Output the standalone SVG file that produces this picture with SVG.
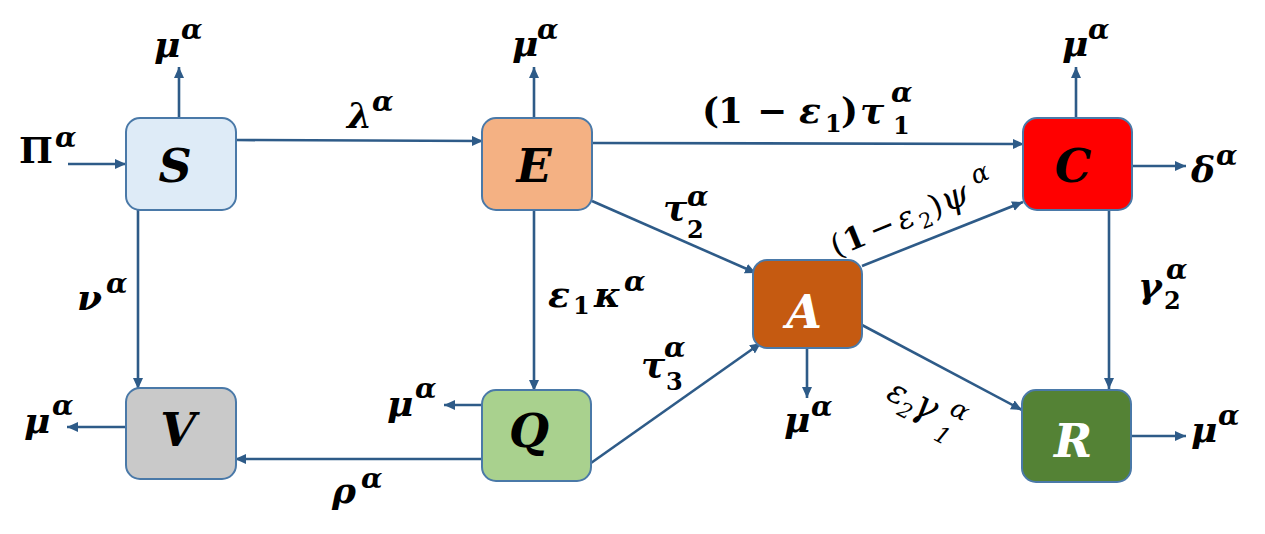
<svg xmlns="http://www.w3.org/2000/svg" width="1265" height="534" viewBox="0 0 1265 534">
<style>
.box{stroke:#4A79A8;stroke-width:2}
.lbl{font-family:"DejaVu Serif","Liberation Serif",serif;font-weight:bold;font-style:italic;font-size:36px;fill:#000}
.node{font-family:"DejaVu Serif","Liberation Serif",serif;font-weight:bold;font-style:italic;font-size:46px;text-anchor:middle}
.up{font-style:normal}
.sup{font-size:28px}
.sub{font-size:24px;font-style:normal}
.thin{font-weight:normal}
.conn line{stroke:#2E5B88;stroke-width:2.6;fill:none;marker-end:url(#ah)}
</style>
<defs>
<marker id="ah" markerUnits="userSpaceOnUse" markerWidth="14" markerHeight="12" refX="11" refY="5" orient="auto">
<path d="M0,0 L11,5 L0,10 Z" fill="#2E5B88"/>
</marker>
</defs>
<rect width="1265" height="534" fill="#fff"/>
<g id="connectors" class="conn">
<line x1="68" y1="164" x2="126" y2="164"/>
<line x1="179" y1="118" x2="179" y2="67"/>
<line x1="236" y1="140" x2="483" y2="141"/>
<line x1="138" y1="210" x2="138" y2="389"/>
<line x1="126" y1="427" x2="67" y2="427"/>
<line x1="534" y1="118" x2="534" y2="67"/>
<line x1="592" y1="143" x2="1024" y2="144"/>
<line x1="592" y1="201" x2="756" y2="273"/>
<line x1="534" y1="210" x2="534" y2="391"/>
<line x1="482" y1="405" x2="444" y2="405"/>
<line x1="482" y1="459" x2="235" y2="459"/>
<line x1="591" y1="463" x2="761" y2="343"/>
<line x1="862" y1="266" x2="1023" y2="202"/>
<line x1="862" y1="325" x2="1022" y2="410"/>
<line x1="807" y1="348" x2="807" y2="398"/>
<line x1="1076" y1="118" x2="1076" y2="67"/>
<line x1="1132" y1="166" x2="1186" y2="166"/>
<line x1="1109" y1="210" x2="1109" y2="389"/>
<line x1="1131" y1="436" x2="1186" y2="436"/>
</g>
<g id="node-S"><rect class="box" x="126" y="118" width="110" height="92" rx="14" fill="#DEEBF7"/><text class="node" x="175" y="182">S</text></g>
<g id="node-E"><rect class="box" x="482" y="118" width="110" height="92" rx="14" fill="#F4B183"/><text class="node" x="534" y="182">E</text></g>
<g id="node-C"><rect class="box" x="1023" y="118" width="109" height="92" rx="14" fill="#FF0000"/><text class="node" x="1073" y="182">C</text></g>
<g id="node-A"><rect class="box" x="753" y="260" width="109" height="88" rx="14" fill="#C55A11"/><text class="node" x="804" y="328" fill="#fff">A</text></g>
<g id="node-V"><rect class="box" x="126" y="388" width="110" height="91" rx="14" fill="#C9C9C9"/><text class="node" x="178" y="446">V</text></g>
<g id="node-Q"><rect class="box" x="482" y="390" width="109" height="91" rx="14" fill="#A9D18E"/><text class="node" x="529" y="447">Q</text></g>
<g id="node-R"><rect class="box" x="1022" y="390" width="109" height="92" rx="14" fill="#548235"/><text class="node" x="1073" y="457" fill="#fff">R</text></g>
<g id="labels">
<text class="lbl"><tspan class="up" x="19" y="163">Π</tspan><tspan class="sup" x="55" y="147">α</tspan></text>
<text class="lbl"><tspan x="154" y="57">μ</tspan><tspan class="sup" x="181" y="39">α</tspan></text>
<text class="lbl"><tspan x="512" y="56">μ</tspan><tspan class="sup" x="537" y="39">α</tspan></text>
<text class="lbl"><tspan x="1062" y="56">μ</tspan><tspan class="sup" x="1088" y="39">α</tspan></text>
<text class="lbl"><tspan x="347" y="128">λ</tspan><tspan class="sup" x="372" y="111">α</tspan></text>
<text class="lbl"><tspan class="up" x="702" y="123">(</tspan><tspan class="up" x="718" y="123">1</tspan><tspan class="up" x="757" y="123">−</tspan><tspan x="799" y="123">ε</tspan><tspan class="sub" x="825" y="132">1</tspan><tspan class="up" x="841" y="123">)</tspan><tspan x="860" y="123">τ</tspan><tspan class="sub" x="893" y="134">1</tspan><tspan class="sup" x="891" y="102">α</tspan></text>
<text class="lbl"><tspan x="663" y="220">τ</tspan><tspan class="sub" x="687" y="238">2</tspan><tspan class="sup" x="687" y="206">α</tspan></text>
<text class="lbl"><tspan x="548" y="307">ε</tspan><tspan class="sub" x="573" y="314">1</tspan><tspan x="594" y="307">κ</tspan><tspan class="sup" x="624" y="291">α</tspan></text>
<text class="lbl"><tspan x="77" y="310">ν</tspan><tspan class="sup" x="106" y="293">α</tspan></text>
<text class="lbl"><tspan x="24" y="433">μ</tspan><tspan class="sup" x="52" y="415">α</tspan></text>
<text class="lbl"><tspan x="332" y="503">ρ</tspan><tspan class="sup" x="361" y="488">α</tspan></text>
<text class="lbl"><tspan x="387" y="416">μ</tspan><tspan class="sup" x="415" y="398">α</tspan></text>
<text class="lbl"><tspan x="641" y="377">τ</tspan><tspan class="sub" x="666" y="390">3</tspan><tspan class="sup" x="664" y="357">α</tspan></text>
<text class="lbl"><tspan x="784" y="432">μ</tspan><tspan class="sup" x="811" y="416">α</tspan></text>
<text class="lbl"><tspan x="1138" y="298">γ</tspan><tspan class="sub" x="1164" y="309">2</tspan><tspan class="sup" x="1166" y="279">α</tspan></text>
<text class="lbl"><tspan x="1191" y="182">δ</tspan><tspan class="sup" x="1216" y="165">α</tspan></text>
<text class="lbl"><tspan x="1191" y="442">μ</tspan><tspan class="sup" x="1218" y="425">α</tspan></text>
<text class="lbl thin" transform="translate(831,259) rotate(-22)" style="font-size:31px"><tspan class="up" x="5" y="0">(</tspan><tspan class="up" x="19" y="0" style="font-weight:bold">1</tspan><tspan class="up" x="46" y="0">−</tspan><tspan x="76" y="0">ε</tspan><tspan class="sub" x="96" y="7" style="font-size:21px">2</tspan><tspan class="up" x="111" y="0">)</tspan><tspan x="124" y="0" style="font-size:35px">ψ</tspan><tspan x="161" y="-15" style="font-size:26px">α</tspan></text>
<text class="lbl thin" transform="translate(885,398) rotate(28)" style="font-size:33px"><tspan x="0" y="0">ε</tspan><tspan x="17" y="9" style="font-size:21px">2</tspan><tspan x="29" y="0" style="font-size:38px">γ</tspan><tspan x="61" y="14" style="font-size:23px">1</tspan><tspan x="63" y="-16" style="font-size:26px">α</tspan></text>
</g>
</svg>
